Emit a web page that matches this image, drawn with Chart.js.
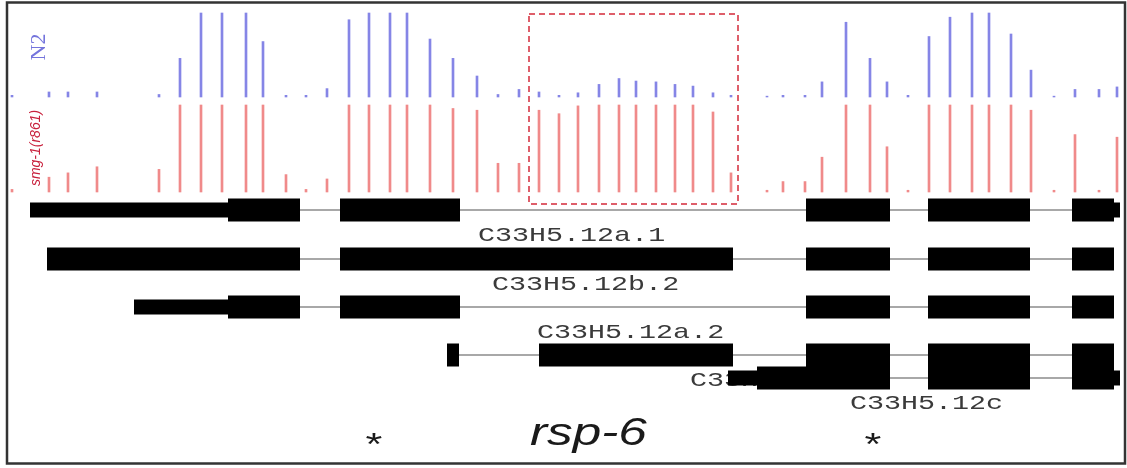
<!DOCTYPE html>
<html>
<head>
<meta charset="utf-8">
<title>rsp-6 coverage</title>
<script src="https://cdn.jsdelivr.net/npm/chart.js@4.4.0/dist/chart.umd.min.js"></script>
<style>
    html, body { margin: 0; padding: 0; background: #fff; }
    #wrap { width: 1127px; height: 468px; }
</style>
</head>
<body>
<div id="wrap"><canvas id="chart" width="1127" height="468"></canvas></div>
<script>
/**
 * rsp-6 locus: read coverage (N2 vs mutant) over the C33H5.12 transcripts
 */

// Genomic positions of the coverage columns (locus units)
const positions = [12, 49, 68, 97, 159, 180, 201, 222, 246, 263, 286, 306, 327, 349, 369, 390, 407,
    430, 453, 477, 498, 519, 539, 559, 578, 599, 619, 636, 656, 675, 693, 713, 731, 767, 783, 805,
    822, 846, 870, 887, 908, 929, 950, 972, 989, 1011, 1031, 1054, 1075, 1099, 1117];

// Relative coverage, % of track maximum
const n2Signal = [2, 6, 6, 6, 3, 46, 100, 100, 100, 66, 2, 2, 10, 92, 100, 100, 100,
    69, 46, 25, 3, 9, 6, 2, 5, 15, 22, 19, 18, 15, 13, 5, 2, 1, 2, 2,
    18, 89, 46, 18, 2, 72, 95, 100, 100, 75, 32, 1, 9, 9, 12];
const mutSignal = [3, 17, 22, 29, 26, 100, 100, 100, 100, 100, 20, 3, 15, 100, 100, 100, 100,
    100, 96, 94, 33, 33, 94, 90, 99, 100, 100, 100, 100, 100, 100, 92, 22, 2, 12, 12,
    40, 100, 100, 52, 2, 100, 100, 100, 100, 100, 94, 2, 66, 2, 63];

// Transcript models
const transcriptNames = ['C33H5.12a.1', 'C33H5.12b.2', 'C33H5.12a.2', 'C33H5.12b.1', 'C33H5.12c'];
const codingExons = [
    [[228, 300], [340, 460], [806, 890], [928, 1030], [1072, 1114]],
    [[47, 300], [340, 733], [806, 890], [928, 1030], [1072, 1114]],
    [[228, 300], [340, 460], [806, 890], [928, 1030], [1072, 1114]],
    [[447, 459], [539, 733], [806, 890], [928, 1030], [1072, 1114]],
    [[757, 890], [928, 1030], [1072, 1114]]
];
const utrExons = [
    [[30, 228], [1114, 1120]],
    [],
    [[134, 228]],
    [],
    [[728, 757], [1114, 1120]]
];
const labelStarts = [478, 492, 537, 690, 850];

const geneName = 'rsp-6';
const markerPositions = [374, 873];   // asterisks
const boxedRegion = [529, 738];       // dashed box

// Layout
const W = 1127, H = 468;
const N2_TRACK = { base: 97, top: 13 };
const MUT_TRACK = { base: 192, top: 105 };
const ROW_Y = [210, 259, 307, 355, 378];
const CDS_H = 23, UTR_H = 15;
const STRETCH = 1.35;   // the figure is drawn horizontally stretched

// y range so that 0 sits on the track base and 100 on its top
function trackRange(track) {
    const span = 100 * H / (track.base - track.top);
    const max = track.base / H * span;
    return { min: max - span, max };
}

function segments(list, y) {
    const out = [];
    list.forEach(([a, b]) => {
        out.push({ x: a, y }, { x: b, y }, { x: b, y: null });
    });
    return out;
}

const intronData = [];
const cdsData = [];
const utrData = [];
transcriptNames.forEach((name, i) => {
    const all = codingExons[i].concat(utrExons[i]);
    const start = Math.min(...all.map(e => e[0]));
    const end = Math.max(...all.map(e => e[1]));
    intronData.push(...segments([[start, end]], ROW_Y[i]));
    cdsData.push(...segments(codingExons[i], ROW_Y[i]));
    utrData.push(...segments(utrExons[i], ROW_Y[i]));
});

const boxTop = N2_TRACK.top + 1, boxBottom = MUT_TRACK.base + 12;
const boxData = [
    { x: boxedRegion[0], y: boxTop }, { x: boxedRegion[1], y: boxTop },
    { x: boxedRegion[1], y: boxBottom }, { x: boxedRegion[0], y: boxBottom },
    { x: boxedRegion[0], y: boxTop }
];

function stretchedText(ctx, text, x, y) {
    ctx.save();
    ctx.translate(x, y);
    ctx.scale(STRETCH, 1);
    ctx.fillText(text, 0, 0);
    ctx.restore();
}

// Labels under the chart marks
const labelsPlugin = {
    id: 'labels',
    beforeDatasetsDraw(chart) {
        const { ctx, scales } = chart;
        ctx.save();
        ctx.fillStyle = '#3a3a3a';
        ctx.font = '21px "Liberation Mono", monospace';
        ctx.textBaseline = 'middle';
        transcriptNames.forEach((name, i) => {
            stretchedText(ctx, name, scales.x.getPixelForValue(labelStarts[i]), scales.yGene.getPixelForValue(ROW_Y[i] + 25));
        });
        ctx.restore();

        // track names, rotated
        ctx.save();
        ctx.translate(39, 47);
        ctx.rotate(-Math.PI / 2);
        ctx.fillStyle = '#7474dc';
        ctx.font = '22px "Liberation Serif", serif';
        ctx.textAlign = 'center';
        ctx.textBaseline = 'middle';
        ctx.fillText('N2', 0, 0);
        ctx.restore();

        ctx.save();
        ctx.translate(36, 148);
        ctx.rotate(-Math.PI / 2);
        ctx.fillStyle = '#c8203c';
        ctx.font = 'italic 14px "Liberation Sans", sans-serif';
        ctx.textAlign = 'center';
        ctx.textBaseline = 'middle';
        ctx.fillText('smg-1(r861)', 0, 0);
        ctx.restore();
    },
    afterDraw(chart) {
        const { ctx, scales } = chart;
        ctx.save();
        ctx.fillStyle = '#1a1a1a';
        ctx.font = 'italic 38px "Liberation Sans", sans-serif';
        ctx.textBaseline = 'alphabetic';
        stretchedText(ctx, geneName, scales.x.getPixelForValue(530), 445);

        ctx.font = '32px "Liberation Sans", sans-serif';
        ctx.textAlign = 'center';
        markerPositions.forEach(p => {
            stretchedText(ctx, '*', scales.x.getPixelForValue(p), 455);
        });

        // frame
        ctx.strokeStyle = '#333';
        ctx.lineWidth = 2.5;
        ctx.strokeRect(7, 2.5, 1118, 461);
        ctx.restore();
    }
};

const n2Range = trackRange(N2_TRACK);
const mutRange = trackRange(MUT_TRACK);

new Chart(document.getElementById('chart'), {
    type: 'bar',
    data: {
        datasets: [
            {
                type: 'line', label: 'introns', yAxisID: 'yGene',
                data: intronData, borderColor: '#8c8c8c', borderWidth: 1.5,
                pointRadius: 0, spanGaps: false, order: 5
            },
            {
                type: 'line', label: 'UTR', yAxisID: 'yGene',
                data: utrData, borderColor: '#000', borderWidth: UTR_H,
                pointRadius: 0, spanGaps: false, order: 4
            },
            {
                type: 'line', label: 'CDS', yAxisID: 'yGene',
                data: cdsData, borderColor: '#000', borderWidth: CDS_H,
                pointRadius: 0, spanGaps: false, order: 3
            },
            {
                label: 'N2', yAxisID: 'yN2',
                data: positions.map((p, i) => ({ x: p, y: n2Signal[i] })),
                backgroundColor: '#8585e6', barThickness: 2, grouped: false, order: 2
            },
            {
                label: 'mutant', yAxisID: 'yMut',
                data: positions.map((p, i) => ({ x: p, y: mutSignal[i] })),
                backgroundColor: '#f08a8a', barThickness: 2, grouped: false, order: 2
            },
            {
                type: 'line', label: 'region', yAxisID: 'yGene',
                data: boxData, borderColor: '#d42a3a', borderWidth: 1.5, borderDash: [6, 4],
                pointRadius: 0, order: 1
            }
        ]
    },
    options: {
        responsive: false,
        animation: false,
        layout: { padding: 0 },
        plugins: { legend: { display: false }, tooltip: { enabled: false } },
        scales: {
            x: { type: 'linear', min: 0, max: W, display: false, offset: false },
            yN2: { type: 'linear', min: n2Range.min, max: n2Range.max, display: false },
            yMut: { type: 'linear', min: mutRange.min, max: mutRange.max, display: false },
            yGene: { type: 'linear', min: 0, max: H, reverse: true, display: false }
        }
    },
    plugins: [labelsPlugin]
});
</script>
</body>
</html>
